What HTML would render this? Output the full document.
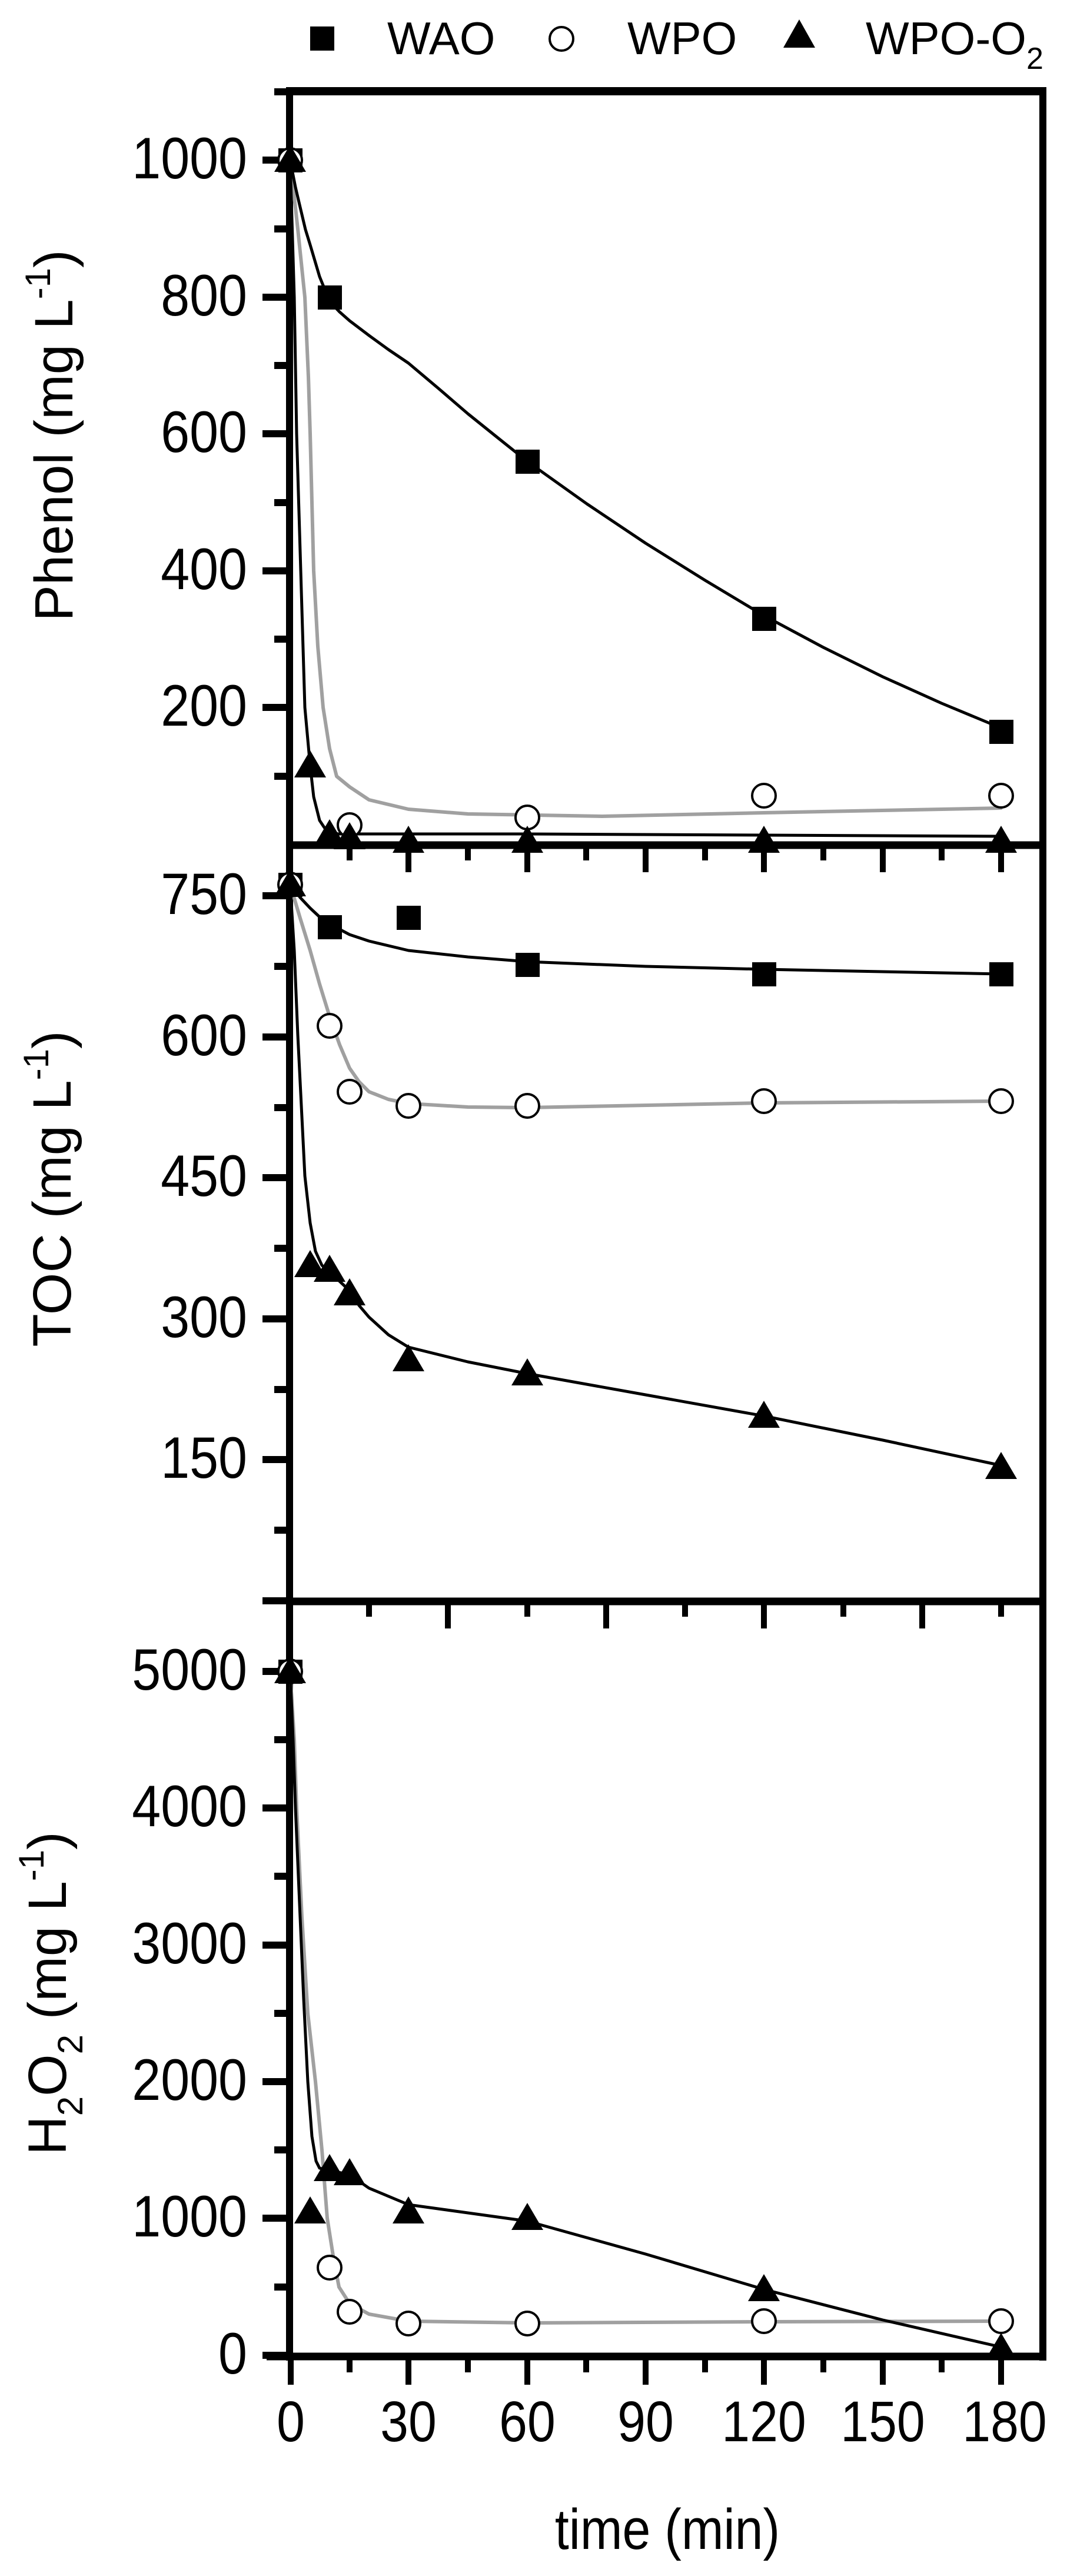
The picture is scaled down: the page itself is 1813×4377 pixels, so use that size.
<!DOCTYPE html>
<html><head><meta charset="utf-8"><style>
html,body{margin:0;padding:0;background:#fff}
svg{display:block}
text{font-family:"Liberation Sans",Arial,sans-serif;fill:#000}
</style></head><body>
<svg width="1813" height="4377" viewBox="0 0 1813 4377" xmlns="http://www.w3.org/2000/svg">
<defs>
<rect id="sq" x="-20" y="-20" width="41" height="41" fill="#000"/>
<ellipse id="ci" cx="0" cy="0" rx="20" ry="20" fill="#fff" stroke="#000" stroke-width="4"/>
<path id="tr" d="M0,-26 L27,20 L-27,20 Z" fill="#000"/>
</defs>

<!-- Legend -->
<rect x="527" y="45" width="41" height="41" fill="#000"/>
<text x="658" y="92" font-size="78">WAO</text>
<circle cx="954" cy="66" r="20" fill="#fff" stroke="#000" stroke-width="4"/>
<text x="1066" y="92" font-size="78">WPO</text>
<path d="M1358,33 L1385,81 L1331,81 Z" fill="#000"/>
<text x="1471" y="92" font-size="78">WPO-O<tspan font-size="52" dy="25">2</tspan></text>

<!-- Frame -->
<g stroke="#000" fill="none" stroke-linecap="butt">
<line x1="486" y1="155" x2="1778" y2="155" stroke-width="14"/>
<line x1="492" y1="148" x2="492" y2="4011" stroke-width="12"/>
<line x1="1772" y1="148" x2="1772" y2="4011" stroke-width="12"/>
<line x1="492" y1="1436" x2="1772" y2="1436" stroke-width="13"/>
<line x1="492" y1="2721" x2="1772" y2="2721" stroke-width="13"/>
<line x1="453" y1="4004" x2="1778" y2="4004" stroke-width="13"/>
</g>

<!-- Ticks -->
<g stroke="#000" stroke-width="12">
<line x1="446" y1="272" x2="492" y2="272"/><line x1="466" y1="389" x2="492" y2="389"/>
<line x1="446" y1="505" x2="492" y2="505"/><line x1="466" y1="621" x2="492" y2="621"/>
<line x1="446" y1="737" x2="492" y2="737"/><line x1="466" y1="854" x2="492" y2="854"/>
<line x1="446" y1="970" x2="492" y2="970"/><line x1="466" y1="1086" x2="492" y2="1086"/>
<line x1="446" y1="1202" x2="492" y2="1202"/><line x1="466" y1="1319" x2="492" y2="1319"/>
<line x1="466" y1="156" x2="492" y2="156"/>
<line x1="446" y1="1522" x2="492" y2="1522"/><line x1="466" y1="1642" x2="492" y2="1642"/>
<line x1="446" y1="1762" x2="492" y2="1762"/><line x1="466" y1="1882" x2="492" y2="1882"/>
<line x1="446" y1="2001" x2="492" y2="2001"/><line x1="466" y1="2121" x2="492" y2="2121"/>
<line x1="446" y1="2241" x2="492" y2="2241"/><line x1="466" y1="2361" x2="492" y2="2361"/>
<line x1="446" y1="2480" x2="492" y2="2480"/><line x1="466" y1="2600" x2="492" y2="2600"/>
<line x1="446" y1="2720" x2="492" y2="2720"/>
<line x1="446" y1="2840" x2="492" y2="2840"/><line x1="466" y1="2956" x2="492" y2="2956"/>
<line x1="446" y1="3072" x2="492" y2="3072"/><line x1="466" y1="3188" x2="492" y2="3188"/>
<line x1="446" y1="3305" x2="492" y2="3305"/><line x1="466" y1="3421" x2="492" y2="3421"/>
<line x1="446" y1="3537" x2="492" y2="3537"/><line x1="466" y1="3653" x2="492" y2="3653"/>
<line x1="446" y1="3769" x2="492" y2="3769"/><line x1="466" y1="3886" x2="492" y2="3886"/>
<line x1="446" y1="4002" x2="492" y2="4002"/>
</g>
<g stroke="#000" stroke-width="10">
<line x1="594" y1="1436" x2="594" y2="1462"/><line x1="694" y1="1436" x2="694" y2="1482"/>
<line x1="795" y1="1436" x2="795" y2="1462"/><line x1="896" y1="1436" x2="896" y2="1482"/>
<line x1="996" y1="1436" x2="996" y2="1462"/><line x1="1097" y1="1436" x2="1097" y2="1482"/>
<line x1="1198" y1="1436" x2="1198" y2="1462"/><line x1="1298" y1="1436" x2="1298" y2="1482"/>
<line x1="1399" y1="1436" x2="1399" y2="1462"/><line x1="1500" y1="1436" x2="1500" y2="1482"/>
<line x1="1600" y1="1436" x2="1600" y2="1462"/><line x1="1701" y1="1436" x2="1701" y2="1482"/>
<line x1="627" y1="2721" x2="627" y2="2747"/><line x1="761" y1="2721" x2="761" y2="2767"/>
<line x1="896" y1="2721" x2="896" y2="2747"/><line x1="1030" y1="2721" x2="1030" y2="2767"/>
<line x1="1164" y1="2721" x2="1164" y2="2747"/><line x1="1298" y1="2721" x2="1298" y2="2767"/>
<line x1="1433" y1="2721" x2="1433" y2="2747"/><line x1="1567" y1="2721" x2="1567" y2="2767"/>
<line x1="1701" y1="2721" x2="1701" y2="2747"/>
<line x1="494" y1="4004" x2="494" y2="4052"/>
<line x1="594" y1="4004" x2="594" y2="4031"/><line x1="694" y1="4004" x2="694" y2="4052"/>
<line x1="795" y1="4004" x2="795" y2="4031"/><line x1="896" y1="4004" x2="896" y2="4052"/>
<line x1="996" y1="4004" x2="996" y2="4031"/><line x1="1097" y1="4004" x2="1097" y2="4052"/>
<line x1="1198" y1="4004" x2="1198" y2="4031"/><line x1="1298" y1="4004" x2="1298" y2="4052"/>
<line x1="1399" y1="4004" x2="1399" y2="4031"/><line x1="1500" y1="4004" x2="1500" y2="4052"/>
<line x1="1600" y1="4004" x2="1600" y2="4031"/><line x1="1701" y1="4004" x2="1701" y2="4052"/>
</g>

<!-- Tick labels -->
<g font-size="88" text-anchor="end">
<text transform="translate(420,303) scale(1,1.13)">1000</text>
<text transform="translate(420,536) scale(1,1.13)">800</text>
<text transform="translate(420,768) scale(1,1.13)">600</text>
<text transform="translate(420,1001) scale(1,1.13)">400</text>
<text transform="translate(420,1233) scale(1,1.13)">200</text>
<text transform="translate(420,1553) scale(1,1.13)">750</text>
<text transform="translate(420,1793) scale(1,1.13)">600</text>
<text transform="translate(420,2032) scale(1,1.13)">450</text>
<text transform="translate(420,2272) scale(1,1.13)">300</text>
<text transform="translate(420,2511) scale(1,1.13)">150</text>
<text transform="translate(420,2871) scale(1,1.13)">5000</text>
<text transform="translate(420,3103) scale(1,1.13)">4000</text>
<text transform="translate(420,3336) scale(1,1.13)">3000</text>
<text transform="translate(420,3568) scale(1,1.13)">2000</text>
<text transform="translate(420,3800) scale(1,1.13)">1000</text>
<text transform="translate(420,4033) scale(1,1.13)">0</text>
</g>
<g font-size="86" text-anchor="middle">
<text transform="translate(494,4148) scale(1,1.13)">0</text>
<text transform="translate(694,4148) scale(1,1.13)">30</text>
<text transform="translate(896,4148) scale(1,1.13)">60</text>
<text transform="translate(1097,4148) scale(1,1.13)">90</text>
<text transform="translate(1298,4148) scale(1,1.13)">120</text>
<text transform="translate(1500,4148) scale(1,1.13)">150</text>
<text transform="translate(1707,4148) scale(1,1.13)">180</text>
<text transform="translate(1134,4331) scale(1,1.13)">time (min)</text>
</g>

<!-- Axis titles -->
<g font-size="92" text-anchor="middle">
<text transform="translate(123,740) rotate(-90)">Phenol (mg L<tspan font-size="60" dy="-38">-1</tspan><tspan dy="38">)</tspan></text>
<text transform="translate(120,2020) rotate(-90)">TOC (mg L<tspan font-size="60" dy="-38">-1</tspan><tspan dy="38">)</tspan></text>
<text transform="translate(112,3387) rotate(-90)">H<tspan font-size="60" dy="28">2</tspan><tspan dy="-28">O</tspan><tspan font-size="60" dy="28">2</tspan><tspan dy="-28"> (mg L</tspan><tspan font-size="60" dy="-38">-1</tspan><tspan dy="38">)</tspan></text>
</g>

<!-- Curves -->
<g fill="none" stroke-linejoin="round" stroke-linecap="round">
<polyline stroke="#a0a0a0" stroke-width="6" points="493,272 506,389 518,505 524,640 527,737 533,970 540,1098 549,1202 560,1272 572,1319 594,1337 627,1359 694,1375 795,1383 1023,1387 1298,1381 1701,1373"/>
<polyline stroke="#000" stroke-width="5" points="493,272 502,318 510,352 519,390 527,416 543,470 560,512 577,530 594,545 627,570 660,594 694,617 745,660 795,703 846,744 896,784 997,856 1097,923 1198,986 1298,1046 1399,1100 1500,1150 1600,1195 1701,1237"/>
<polyline stroke="#000" stroke-width="5" points="493,272 500,505 504,737 511,970 518,1202 527,1301 533,1354 543,1394 553,1409 574,1417 594,1417 896,1417 1298,1419 1701,1421"/>
<polyline stroke="#000" stroke-width="5" points="493,1503 510,1525 527,1543 543,1558 560,1570 594,1588 627,1599 694,1615 795,1626 896,1634 1097,1642 1298,1647 1701,1655"/>
<polyline stroke="#a0a0a0" stroke-width="6" points="493,1503 510,1560 527,1615 543,1672 560,1727 577,1775 594,1815 610,1838 627,1855 660,1868 694,1875 795,1881 896,1882 1298,1874 1701,1871"/>
<polyline stroke="#000" stroke-width="5" points="493,1503 500,1615 506,1759 518,1998 527,2078 536,2126 547,2150 560,2161 594,2193 610,2218 627,2238 660,2268 694,2289 795,2314 896,2334 1097,2370 1298,2406 1500,2447 1701,2490"/>
<polyline stroke="#a0a0a0" stroke-width="6" points="493,2840 500,2956 504,3072 513,3258 523,3421 536,3537 547,3653 556,3769 567,3839 576,3886 594,3914 627,3932 694,3944 896,3947 1298,3945 1701,3944"/>
<polyline stroke="#000" stroke-width="5" points="493,2840 498,2956 502,3072 510,3258 516,3397 523,3537 530,3630 537,3672 543,3684 560,3688 594,3695 627,3718 694,3746 795,3760 896,3774 1097,3830 1298,3890 1500,3942 1701,3988"/>
</g>

<!-- Markers -->
<g>
<use href="#sq" x="493" y="272"/><use href="#sq" x="560" y="505"/><use href="#sq" x="896" y="784"/><use href="#sq" x="1298" y="1051"/><use href="#sq" x="1701" y="1243"/>
<use href="#ci" x="493" y="272"/><use href="#ci" x="594" y="1402"/><use href="#ci" x="896" y="1389"/><use href="#ci" x="1298" y="1352"/><use href="#ci" x="1701" y="1352"/>
<use href="#tr" x="493" y="272"/><use href="#tr" x="527" y="1301"/><use href="#tr" x="560" y="1418"/><use href="#tr" x="594" y="1423"/><use href="#tr" x="694" y="1429"/><use href="#tr" x="896" y="1429"/><use href="#tr" x="1298" y="1429"/><use href="#tr" x="1701" y="1429"/>

<use href="#sq" x="493" y="1503"/><use href="#sq" x="560" y="1575"/><use href="#sq" x="694" y="1559"/><use href="#sq" x="896" y="1639"/><use href="#sq" x="1298" y="1655"/><use href="#sq" x="1701" y="1655"/>
<use href="#ci" x="493" y="1503"/><use href="#ci" x="560" y="1743"/><use href="#ci" x="594" y="1855"/><use href="#ci" x="694" y="1879"/><use href="#ci" x="896" y="1879"/><use href="#ci" x="1298" y="1871"/><use href="#ci" x="1701" y="1871"/>
<use href="#tr" x="493" y="1503"/><use href="#tr" x="527" y="2150"/><use href="#tr" x="560" y="2158"/><use href="#tr" x="594" y="2198"/><use href="#tr" x="694" y="2310"/><use href="#tr" x="896" y="2334"/><use href="#tr" x="1298" y="2406"/><use href="#tr" x="1701" y="2493"/>

<use href="#sq" x="493" y="2840"/>
<use href="#ci" x="493" y="2840"/><use href="#ci" x="560" y="3853"/><use href="#ci" x="594" y="3928"/><use href="#ci" x="694" y="3948"/><use href="#ci" x="896" y="3948"/><use href="#ci" x="1298" y="3944"/><use href="#ci" x="1701" y="3944"/>
<use href="#tr" x="493" y="2840"/><use href="#tr" x="527" y="3758"/><use href="#tr" x="560" y="3686"/><use href="#tr" x="594" y="3693"/><use href="#tr" x="694" y="3758"/><use href="#tr" x="896" y="3769"/><use href="#tr" x="1298" y="3890"/><use href="#tr" x="1701" y="3990"/>
</g>
</svg>
</body></html>
